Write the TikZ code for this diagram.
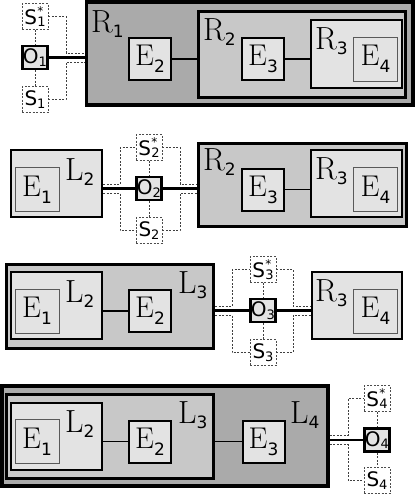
\documentclass[tikz,border=0pt]{standalone}
\usepackage{fontspec}
\setmainfont{Latin Modern Roman}
\newfontfamily\djv{DejaVu Sans}
\usetikzlibrary{calc,fit}
\definecolor{cdark}{HTML}{AAAAAA}
\definecolor{cmid}{HTML}{C8C8C8}
\definecolor{clight}{HTML}{E3E3E3}
\newcommand{\Elab}[1]{{\fontsize{30}{30}\selectfont E}\raisebox{-7pt}{\djv\fontsize{17}{17}\selectfont #1}}
\newcommand{\Clab}[2]{{\fontsize{32}{32}\selectfont #1}\raisebox{-5pt}{\djv\fontsize{17}{17}\selectfont #2}}
\newcommand{\Olab}[1]{{\djv\fontsize{20}{20}\selectfont O\raisebox{-2.5pt}{\fontsize{13}{13}\selectfont #1}}}
\newcommand{\Slab}[1]{{\djv\fontsize{20}{20}\selectfont S\raisebox{-2.5pt}{\fontsize{13}{13}\selectfont #1}}}
\newcommand{\Sslab}[1]{{\djv\fontsize{20}{20}\selectfont S\kern0.3pt\rlap{\raisebox{8.5pt}{\fontsize{12}{12}\selectfont *}}\raisebox{-2pt}{\fontsize{13}{13}\selectfont #1}}}
\tikzset{
  ebox/.style={draw, line width=2pt, fill=clight, minimum width=42pt, minimum height=42pt, inner sep=0pt},
  einner/.style={draw=black!65, line width=1pt, fill=clight, minimum width=44pt, minimum height=44pt, inner sep=0pt},
  cone/.style={draw, line width=2pt, fill=clight, inner sep=0pt},
  ctwo/.style={draw, line width=3pt, fill=cmid, inner sep=0pt},
  cthree/.style={draw, line width=3.5pt, fill=cdark, inner sep=0pt},
  obox/.style={draw, line width=2.5pt, fill=clight, minimum width=25pt, minimum height=23pt, inner sep=0pt},
  sbox/.style={draw=black!70, line width=0.8pt, dash pattern=on 2pt off 1.5pt, fill=white, minimum width=26pt, minimum height=26pt, inner sep=0pt},
  lab/.style={anchor=base west, inner sep=0pt},
  link/.style={line width=1.5pt},
  olink/.style={line width=2.2pt},
  dlink/.style={line width=0.8pt, draw=black!75, dash pattern=on 2pt off 1.5pt},
}
\begin{document}
\begin{tikzpicture}[x=1pt,y=-1pt]
\useasboundingbox (0,0) rectangle (415,496);
% ---------------- panel 1
\node[cthree, fit={(86.5,2) (413,105)}] (r1a) {};
\node[ctwo, fit={(198,11.5) (405.5,97)}] (r2a) {};
\node[cone, fit={(311,20) (401.5,88)}] (r3a) {};
\node[lab] (r1alab) at (91,32) {\Clab{R}{1}};
\node[lab] (r2alab) at (203,40) {\Clab{R}{2}};
\node[lab] (r3alab) at (315,49) {\Clab{R}{3}};
\node[ebox] (e2a) at (150,59) {\Elab{2}};
\node[ebox] (e3a) at (263,59) {\Elab{3}};
\node[einner] (e4a) at (375.5,59) {\Elab{4}};
\draw[link] (e2a.east) -- (e2a.east -| r2a.west);
\draw[link] (e3a.east) -- (e3a.east -| r3a.west);
\node[obox] (o1) at (35,57.5) {\Olab{1}};
\node[sbox] (s1s) at (35,16.5) {\Sslab{1}};
\node[sbox] (s1) at (35,99.5) {\Slab{1}};
\coordinate (k1) at (66,57.5);
\draw[dlink] (s1s) -- (o1);
\draw[dlink] (o1) -- (s1);
\draw[dlink] (s1s.east) -| ([yshift=4.5pt]k1) -- ([yshift=4.5pt]k1 -| r1a.west);
\draw[dlink] (s1.east) -| ([yshift=-4.5pt]k1) -- ([yshift=-4.5pt]k1 -| r1a.west);
\draw[olink] (o1.east) -- (o1.east -| r1a.west);
% ---------------- panel 2
\node[cone, fit={(11,150) (102,217)}] (l2b) {};
\node[lab] (l2blab) at (65,180) {\Clab{L}{2}};
\node[einner] (e1b) at (37,189.5) {\Elab{1}};
\node[ctwo, fit={(198,143.5) (406,226.5)}] (r2b) {};
\node[cone, fit={(311,150) (401.5,217)}] (r3b) {};
\node[lab] (r2blab) at (203,170) {\Clab{R}{2}};
\node[lab] (r3blab) at (315,179) {\Clab{R}{3}};
\node[ebox] (e3b) at (263,189.5) {\Elab{3}};
\node[einner] (e4b) at (375.5,189.5) {\Elab{4}};
\draw[link] (e3b.east) -- (e3b.east -| r3b.west);
\node[obox] (o2) at (149,188.5) {\Olab{2}};
\node[sbox] (s2s) at (149,147.5) {\Sslab{2}};
\node[sbox] (s2) at (149,230.5) {\Slab{2}};
\coordinate (k2a) at (120,188.5);
\coordinate (k2b) at (180,188.5);
\draw[dlink] (s2s) -- (o2);
\draw[dlink] (o2) -- (s2);
\draw[dlink] ([yshift=4.5pt]k2a -| l2b.east) -- ([yshift=4.5pt]k2a) |- (s2s.west);
\draw[dlink] ([yshift=-4.5pt]k2a -| l2b.east) -- ([yshift=-4.5pt]k2a) |- (s2.west);
\draw[dlink] (s2s.east) -| ([yshift=4.5pt]k2b) -- ([yshift=4.5pt]k2b -| r2b.west);
\draw[dlink] (s2.east) -| ([yshift=-4.5pt]k2b) -- ([yshift=-4.5pt]k2b -| r2b.west);
\draw[olink] (o2.west -| l2b.east) -- (o2.west);
\draw[olink] (o2.east) -- (o2.east -| r2b.west);
% ---------------- panel 3
\node[ctwo, fit={(6.5,264.5) (213.5,348.5)}] (l3c) {};
\node[cone, fit={(11,272) (102,339)}] (l2c) {};
\node[lab] (l2clab) at (65,302) {\Clab{L}{2}};
\node[lab] (l3clab) at (178,293) {\Clab{L}{3}};
\node[einner] (e1c) at (37,311) {\Elab{1}};
\node[ebox] (e2c) at (150,311) {\Elab{2}};
\draw[link] (e2c.west -| l2c.east) -- (e2c.west);
\node[cone, fit={(311.5,272) (401.5,339)}] (r3c) {};
\node[lab] (r3clab) at (315,301) {\Clab{R}{3}};
\node[einner] (e4c) at (375.5,311) {\Elab{4}};
\node[obox] (o3) at (263,310.5) {\Olab{3}};
\node[sbox] (s3s) at (263,269.5) {\Sslab{3}};
\node[sbox] (s3) at (263,352.5) {\Slab{3}};
\coordinate (k3a) at (232,310.5);
\coordinate (k3b) at (293,310.5);
\draw[dlink] (s3s) -- (o3);
\draw[dlink] (o3) -- (s3);
\draw[dlink] ([yshift=4.5pt]k3a -| l3c.east) -- ([yshift=4.5pt]k3a) |- (s3s.west);
\draw[dlink] ([yshift=-4.5pt]k3a -| l3c.east) -- ([yshift=-4.5pt]k3a) |- (s3.west);
\draw[dlink] (s3s.east) -| ([yshift=4.5pt]k3b) -- ([yshift=4.5pt]k3b -| r3c.west);
\draw[dlink] (s3.east) -| ([yshift=-4.5pt]k3b) -- ([yshift=-4.5pt]k3b -| r3c.west);
\draw[olink] (o3.west -| l3c.east) -- (o3.west);
\draw[olink] (o3.east) -- (o3.east -| r3c.west);
% ---------------- panel 4
\node[cthree, fit={(2,386) (328,486)}] (l4d) {};
\node[ctwo, fit={(6.5,394.5) (213.5,478)}] (l3d) {};
\node[cone, fit={(11,403) (102,469.5)}] (l2d) {};
\node[lab] (l2dlab) at (65,432) {\Clab{L}{2}};
\node[lab] (l3dlab) at (178,423) {\Clab{L}{3}};
\node[lab] (l4dlab) at (290,423) {\Clab{L}{4}};
\node[einner] (e1d) at (37,441.5) {\Elab{1}};
\node[ebox] (e2d) at (150,441.5) {\Elab{2}};
\node[ebox] (e3d) at (263.5,441.5) {\Elab{3}};
\draw[link] (e2d.west -| l2d.east) -- (e2d.west);
\draw[link] (e3d.west -| l3d.east) -- (e3d.west);
\node[obox] (o4) at (377,440) {\Olab{4}};
\node[sbox] (s4s) at (377,398.5) {\Sslab{4}};
\node[sbox] (s4) at (377,480.5) {\Slab{4}};
\coordinate (k4) at (348,440);
\draw[dlink] (s4s) -- (o4);
\draw[dlink] (o4) -- (s4);
\draw[dlink] ([yshift=4.5pt]k4 -| l4d.east) -- ([yshift=4.5pt]k4) |- (s4s.west);
\draw[dlink] ([yshift=-4.5pt]k4 -| l4d.east) -- ([yshift=-4.5pt]k4) |- (s4.west);
\draw[olink] (o4.west -| l4d.east) -- (o4.west);
\end{tikzpicture}
\end{document}
